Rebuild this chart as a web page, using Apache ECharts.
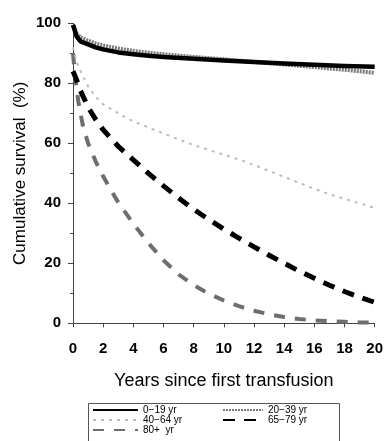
<!DOCTYPE html>
<html><head><meta charset="utf-8">
<script src="https://cdn.jsdelivr.net/npm/echarts@6/dist/echarts.min.js"></script>
<style>html,body{margin:0;padding:0;background:#fff}#c{width:386px;height:441px}</style>
</head><body><div id="c"></div>
<script>
var xTicks = [0,2,4,6,8,10,12,14,16,18,20];
var yTicks = [0,20,40,60,80,100];
var names = ['0\u221219 yr','20\u221239 yr','40\u221264 yr','65\u221279 yr','80+  yr'];

var t0_19 = [0,0.25,0.5,1,1.5,2,3,4,5,6,8,10,12,14,16,18,20];
var s0_19 = [99.5,95.5,94,93,92,91.3,90.3,89.7,89.2,88.8,88.2,87.6,87.1,86.6,86.2,85.8,85.5];

var t20_39 = [0,0.25,0.5,1,1.5,2,3,4,5,6,8,10,12,14,16,18,20];
var s20_39 = [99.5,96.5,95.3,94.2,93.3,92.6,91.6,90.8,90.2,89.7,88.8,88,87.1,86.3,85.4,84.5,83.5];

var t40_64 = [0,0.25,0.5,1,1.5,2,3,4,5,6,7,8,9,10,11,12,13,14,15,16,17,18,19,20];
var s40_64 = [92,87,84,79,75.5,73,70,67.3,65.3,63.3,61.3,59.4,57.8,56.2,54.6,52.8,50.8,48.8,46.8,44.8,43,41.5,40,38.5];

var t65_79 = [0,0.25,0.5,1,1.5,2,3,4,5,6,7,8,9,10,11,12,13,14,15,16,17,18,19,20];
var s65_79 = [84,81,77.5,72,68,64.5,59,54.5,50,45.8,41.8,38,34.6,31.4,28.4,25.5,22.7,20,17.4,15,12.7,10.6,8.7,7];

var t80 = [0,0.15,0.35,0.65,1,1.5,2,2.5,3,4,5,6,7,8,9,10,11,12,13,14,15,16,17,18,19,20];
var s80 = [90,82,74,66,60,54,49,44.5,40.3,33.2,26.7,21,16.3,12.7,9.9,7.6,5.7,4.2,3,2.1,1.4,1,0.7,0.5,0.3,0.2];

function pairs(t, s){ return t.map(function(v,i){ return [v, s[i]]; }); }
var FONT = "'Liberation Sans', Arial, sans-serif";
var styles = [
  {color:'#000', width:4.5, type:'solid'},
  {color:'#7a7a7a', width:4, type:[2,1]},
  {color:'#bdbdbd', width:2, type:[3,5]},
  {color:'#000', width:5, type:[12,9]},
  {color:'#6e6e6e', width:4, type:[11,10]}
];
var datas = [pairs(t0_19,s0_19), pairs(t20_39,s20_39), pairs(t40_64,s40_64), pairs(t65_79,s65_79), pairs(t80,s80)];
var order = [4,3,2,1,0];
var series = order.map(function(i){
  return {name:names[i], type:'line', data:datas[i], symbol:'none', showSymbol:false, smooth:false,
    lineStyle:{color:styles[i].color, width:styles[i].width, type:styles[i].type, cap:'butt', join:'round'},
    itemStyle:{color:styles[i].color}, z: 10-i};
});
var legText = {fontFamily:FONT, fontSize:10, color:'#000', width:70, lineHeight:10};
var chart = echarts.init(document.getElementById('c'));
chart.setOption({
  animation:false,
  grid:{left:73, right:11, top:23.3, bottom:117.7},
  xAxis:{type:'value', min:0, max:20, interval:2, offset:5,
    name:'Years since first transfusion', nameLocation:'middle', nameGap:44,
    nameTextStyle:{fontFamily:FONT, fontSize:18, color:'#000'},
    axisLine:{show:true, lineStyle:{color:'#444', width:1}},
    axisTick:{show:true, length:4, lineStyle:{color:'#444'}},
    axisLabel:{margin:13, fontFamily:FONT, fontSize:15, fontWeight:'bold', color:'#000',
      formatter:function(v){ return xTicks.indexOf(v)>=0 ? String(v) : ''; }},
    splitLine:{show:false}},
  yAxis:{type:'value', min:0, max:100, interval:20, offset:5,
    name:'Cumulative survival  (%)', nameLocation:'middle', nameGap:39, nameMoveOverlap:false,
    nameTextStyle:{fontFamily:FONT, fontSize:17, color:'#000'},
    axisLine:{show:true, lineStyle:{color:'#444', width:1}},
    axisTick:{show:true, length:5, lineStyle:{color:'#444'}},
    minorTick:{show:true, splitNumber:2, length:3, lineStyle:{color:'#444'}},
    axisLabel:{margin:7, fontFamily:FONT, fontSize:15, fontWeight:'bold', color:'#000',
      formatter:function(v){ return yTicks.indexOf(v)>=0 ? String(v) : ''; }},
    splitLine:{show:false}},
  legend:[
    {orient:'vertical', left:92, top:405, padding:0, itemGap:0, itemWidth:45, itemHeight:8,
      itemStyle:{opacity:0}, data:[names[0], names[2], names[4]], textStyle:legText},
    {orient:'vertical', left:222, top:405, padding:0, itemGap:0, itemWidth:40, itemHeight:8,
      itemStyle:{opacity:0}, data:[names[1], names[3]], textStyle:legText}
  ],
  graphic:[{type:'rect', shape:{x:88.5, y:403.5, width:251, height:50}, style:{fill:'none', stroke:'#555', lineWidth:1}, silent:true}],
  series:series
});
</script></body></html>
